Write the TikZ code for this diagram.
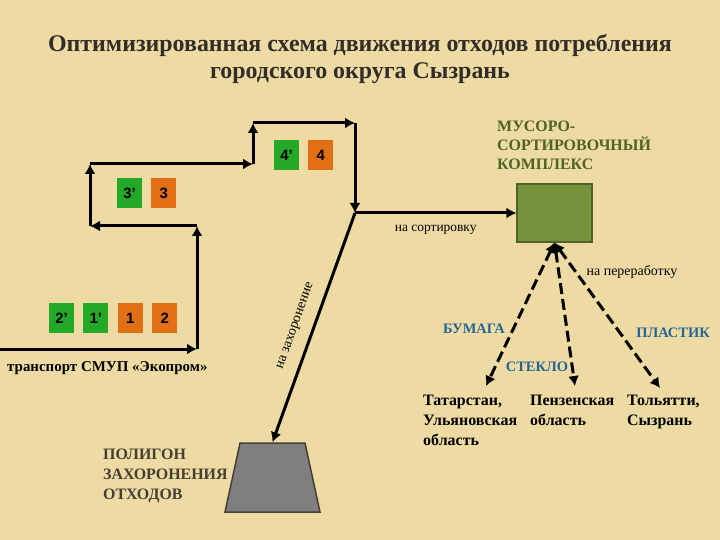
\documentclass[tikz,border=0pt]{standalone}
\usepackage{fontspec}
\setmainfont{Liberation Serif}
\setsansfont{Liberation Sans}
\usetikzlibrary{arrows.meta,shapes,positioning}

\definecolor{papyrus}{RGB}{238,219,163}
\definecolor{boxgreen}{RGB}{36,168,40}
\definecolor{boxorange}{RGB}{226,110,22}
\definecolor{sortgreen}{RGB}{118,146,60}
\definecolor{sortedge}{RGB}{79,98,40}
\definecolor{landgray}{RGB}{127,127,127}
\definecolor{landedge}{RGB}{70,62,50}
\definecolor{matblue}{RGB}{36,100,150}
\definecolor{titlegray}{RGB}{50,45,40}

\begin{document}
\begin{tikzpicture}[x=1bp, y=-1bp, node distance=9bp]
        \tikzstyle{gbox} = [rectangle, fill=boxgreen, minimum width=25bp,
                            minimum height=30bp, inner sep=0pt,
                            font=\sffamily\bfseries\fontsize{15}{15}\selectfont]
        \tikzstyle{obox} = [gbox, fill=boxorange]
        \tikzstyle{arrow} = [draw, -{Latex[length=10bp,width=11bp]},
                             line width=3bp]
        \tikzstyle{dasharrow} = [draw, {Latex[length=10bp,width=11bp]}-{Latex[length=10bp,width=11bp]},
                                 line width=3bp, dash pattern=on 11bp off 5bp]
        \tikzstyle{lbl} = [inner sep=0pt, align=left]
        \tikzstyle{matlbl} = [inner sep=0pt, text=matblue,
                              font=\bfseries\fontsize{14.5}{14.5}\selectfont]
        \tikzstyle{placelbl} = [lbl, anchor=north west,
                                font=\bfseries\fontsize{16}{20}\selectfont]
        \useasboundingbox (0,0) rectangle (720,540);
        \fill[papyrus] (0,0) rectangle (720,540);
        % title
        \node[lbl, align=center, text=titlegray,
              font=\bfseries\fontsize{24}{28}\selectfont] (title) at (360,59)
          {Оптимизированная схема движения отходов потребления\\
           городского округа Сызрань};
        % route of the transport
        \coordinate (c0) at (0,349);
        \coordinate (c1) at (197,349);
        \coordinate (c2) at (197,226);
        \coordinate (c3) at (90,226);
        \coordinate (c4) at (90,164);
        \coordinate (c5) at (253,164);
        \coordinate (c6) at (253,123);
        \coordinate (c7) at (355,123);
        \coordinate (c8) at (355,213);
        \path[arrow] (c0) -- (c1);
        \path[arrow] (c1) -- (c2);
        \path[arrow] (c2) -- (c3);
        \path[arrow] (c3) -- (c4);
        \path[arrow] (c4) -- (c5);
        \path[arrow] (c5) -- (c6);
        \path[arrow] (c6) -- (c7);
        \path[arrow] (c7) -- (c8);
        \node[lbl, font=\bfseries\fontsize{15}{15}\selectfont, anchor=west]
          (smup) at (7,368) {транспорт СМУП «Экопром»};
        % districts
        \node[gbox] (d2s) at (61.5,318) {2’};
        \node[gbox, right=of d2s] (d1s) {1’};
        \node[obox, right=of d1s] (d1) {1};
        \node[obox, right=of d1] (d2) {2};
        \node[gbox] (d3s) at (129.5,193) {3’};
        \node[obox, right=of d3s] (d3) {3};
        \node[gbox] (d4s) at (286.5,155) {4’};
        \node[obox, right=of d4s] (d4) {4};
        % sorting complex
        \node[rectangle, draw=sortedge, fill=sortgreen, line width=1.2bp,
              minimum width=75bp, minimum height=58bp] (msk) at (554.5,213) {};
        \node[lbl, anchor=north west, text=sortedge,
              font=\bfseries\fontsize{16}{19}\selectfont] (msklbl) at (497,121)
          {МУСОРО-\\СОРТИРОВОЧНЫЙ\\КОМПЛЕКС};
        \path[arrow] (c8) -- node[below=7bp, font=\fontsize{13.5}{13.5}\selectfont]
          {на сортировку} (msk.west);
        % landfill
        \node[trapezium, trapezium stretches=true, minimum width=95bp,
              minimum height=69bp, trapezium left angle=77,
              trapezium right angle=77, fill=landgray, draw=landedge,
              line width=1.5bp] (land) at (272.5,477.5) {};
        \path[arrow] (c8) -- (land.north);
        \node[lbl, rotate=70.3, font=\fontsize{14}{14}\selectfont]
          (burial) at (296,326) {на захоронение};
        \node[lbl, anchor=north west, text=landedge,
              font=\bfseries\fontsize{16}{20}\selectfont] (landlbl) at (103,449)
          {ПОЛИГОН\\ЗАХОРОНЕНИЯ\\ОТХОДОВ};
        % recycling
        \coordinate (paper) at (486,386);
        \coordinate (glass) at (575,386);
        \coordinate (plast) at (660,388);
        \path[dasharrow] (msk.south) -- (paper);
        \path[dasharrow] (msk.south) -- (glass);
        \path[dasharrow] (msk.south) -- (plast);
        \node[lbl, font=\fontsize{14}{14}\selectfont] (recycle) at (632,272)
          {на переработку};
        \node[matlbl] (paperlbl) at (474,329) {БУМАГА};
        \node[matlbl] (glasslbl) at (537,367) {СТЕКЛО};
        \node[matlbl] (plastlbl) at (673,333) {ПЛАСТИК};
        \node[placelbl] (tatar) at (423,395) {Татарстан,\\Ульяновская\\область};
        \node[placelbl] (penza) at (530,395) {Пензенская\\область};
        \node[placelbl] (tolyatti) at (627,395) {Тольятти,\\Сызрань};
\end{tikzpicture}
\end{document}
